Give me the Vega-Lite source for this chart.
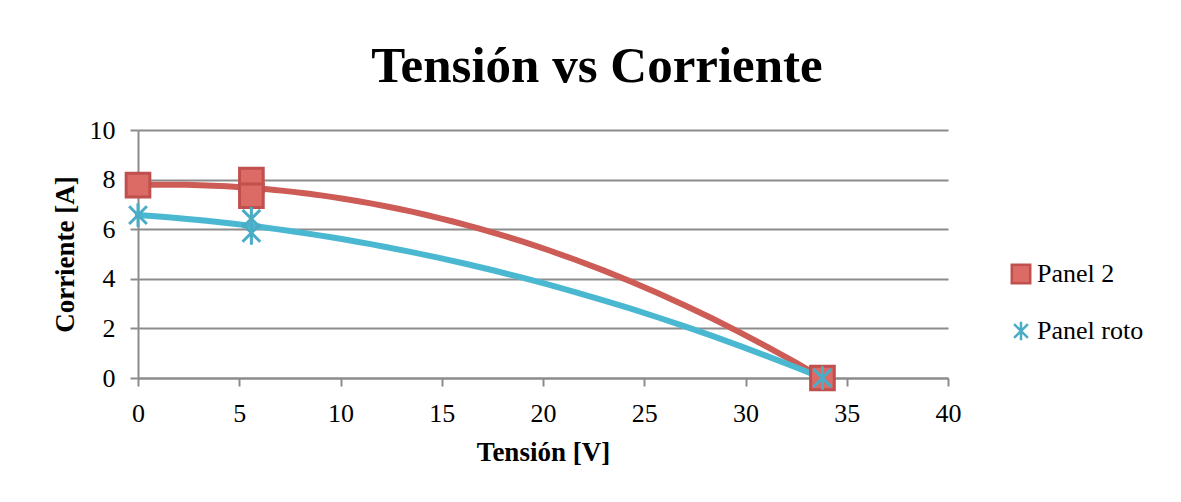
{
  "$schema": "https://vega.github.io/schema/vega-lite/v6.json",
  "width": 810,
  "height": 248,
  "autosize": "none",
  "padding": {"left": 138, "top": 130, "right": 233, "bottom": 124},
  "background": "white",
  "title": {
    "text": "Tensión vs Corriente",
    "font": "Liberation Serif",
    "fontSize": 51,
    "fontWeight": "bold",
    "color": "black",
    "anchor": "middle",
    "dx": 54,
    "offset": 24
  },
  "config": {
    "view": {"stroke": null},
    "axis": {
      "domainColor": "#8c8c8c",
      "domainWidth": 2,
      "tickColor": "#8c8c8c",
      "tickWidth": 2,
      "tickSize": 8,
      "labelFont": "Liberation Serif",
      "labelFontSize": 26,
      "labelColor": "black",
      "labelFlush": false,
      "labelOverlap": false,
      "titleFont": "Liberation Serif",
      "titleFontSize": 27,
      "titleFontWeight": "bold",
      "titleColor": "black",
      "gridColor": "#8c8c8c",
      "gridWidth": 2
    },
    "legend": {
      "title": null,
      "padding": 0,
      "labelFont": "Liberation Serif",
      "labelFontSize": 26,
      "labelColor": "black",
      "labelOffset": 3,
      "rowPadding": 27,
      "symbolSize": 340,
      "symbolStrokeWidth": 2.5
    }
  },
  "data": {
    "values": [
      {"serie": "Panel 2", "V": 0, "I": 7.78},
      {"serie": "Panel 2", "V": 5.6, "I": 7.98},
      {"serie": "Panel 2", "V": 5.6, "I": 7.35},
      {"serie": "Panel 2", "V": 33.8, "I": 0},
      {"serie": "Panel roto", "V": 0, "I": 6.57},
      {"serie": "Panel roto", "V": 5.6, "I": 6.42},
      {"serie": "Panel roto", "V": 5.6, "I": 5.85},
      {"serie": "Panel roto", "V": 33.8, "I": 0}
    ]
  },
  "encoding": {
    "x": {
      "field": "V",
      "type": "quantitative",
      "scale": {"domain": [0, 40], "nice": false, "zero": false},
      "axis": {
        "values": [0, 5, 10, 15, 20, 25, 30, 35, 40],
        "grid": false,
        "title": "Tensión [V]",
        "labelPadding": 14,
        "titlePadding": 13
      }
    },
    "y": {
      "field": "I",
      "type": "quantitative",
      "scale": {"domain": [0, 10], "nice": false},
      "axis": {
        "values": [0, 2, 4, 6, 8, 10],
        "grid": true,
        "title": "Corriente [A]",
        "labelPadding": 15,
        "titlePadding": 10
      }
    }
  },
  "layer": [
    {
      "transform": [
        {"regression": "I", "on": "V", "groupby": ["serie"], "method": "poly", "order": 2}
      ],
      "mark": {"type": "line", "strokeWidth": 6, "strokeCap": "round"},
      "encoding": {
        "color": {
          "field": "serie",
          "type": "nominal",
          "scale": {"domain": ["Panel roto", "Panel 2"], "range": ["#4bb8d2", "#cd5c56"]},
          "legend": null
        }
      }
    },
    {
      "mark": {"type": "point", "opacity": 1, "strokeWidth": 3, "size": 560},
      "encoding": {
        "shape": {
          "field": "serie",
          "type": "nominal",
          "scale": {
            "domain": ["Panel 2", "Panel roto"],
            "range": ["square", "M0,-1L0,1M-0.75,-0.75L0.75,0.75M-0.75,0.75L0.75,-0.75"]
          },
          "legend": {"orient": "none", "legendX": 870, "legendY": 131}
        },
        "fill": {
          "field": "serie",
          "type": "nominal",
          "scale": {"domain": ["Panel 2", "Panel roto"], "range": ["#dc6b65", "transparent"]},
          "legend": {"orient": "none", "legendX": 870, "legendY": 131}
        },
        "stroke": {
          "field": "serie",
          "type": "nominal",
          "scale": {"domain": ["Panel 2", "Panel roto"], "range": ["#c0504d", "#4bacc6"]},
          "legend": {"orient": "none", "legendX": 870, "legendY": 131}
        }
      }
    }
  ]
}
